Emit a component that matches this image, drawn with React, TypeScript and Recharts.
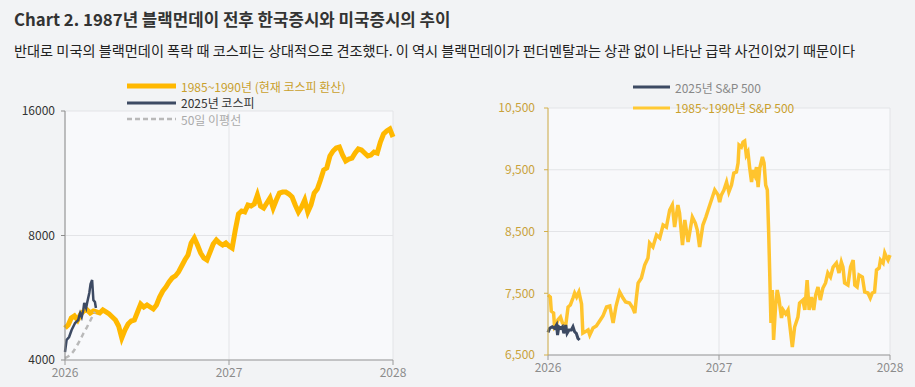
import React from "react";
import { LineChart, Line, XAxis, YAxis, CartesianGrid } from "recharts";

const FONT = '"Noto Sans CJK KR", "Noto Sans", sans-serif';

// x axis is counted in weeks from the start of 2026
const yearTicks = [0, 52, 104];
const yearLabels = ["2026", "2027", "2028"];

// left panel: KOSPI (log scale)
const kospiTicks = [4000, 8000, 16000];

// 1985~1990 KOSPI rescaled to today's level, one value per week
const kospi85Values = [
  4780, 4861, 5052, 5111, 4997, 5167, 5255, 5285, 5196, 5255,
  5226, 5196, 5285, 5226, 5167, 5082, 4997, 4834, 4521, 4727,
  4888, 4969, 4997, 5226, 5463, 5373, 5433, 5373, 5314, 5433,
  5680, 5873, 6005, 6175, 6316, 6386, 6530, 6750, 6980, 7177,
  7673, 7890, 7588, 7258, 7057, 6980, 7298, 7630, 7800, 7673,
  7588, 7673, 7546, 7462, 8250, 9018, 9170, 9119, 9480, 9428,
  9534, 10023, 9427, 9324, 9587, 9857, 9324, 9748, 10134, 10190,
  10190, 10078, 9912, 9480, 9119, 9376, 9748, 9119, 9480, 10134,
  10364, 10897, 11520, 11650, 12453, 12805, 13020, 13093, 12523, 12112,
  12247, 12313, 12663, 12949, 12877, 12663, 12453, 12523, 12734, 12663,
  13465, 14077, 14313, 14476, 13843,
];

const kospi25Weeks = [0, 0.5, 1.3, 2.1, 3.2, 4.2, 4.5, 4.8, 5.3, 5.8, 6.1, 6.7, 7.0, 7.7, 8.1, 8.6, 9.0, 9.5, 9.8];
const kospi25Values = [4182, 4471, 4546, 4727, 4914, 4997, 5111, 5196, 5082, 5285, 5494, 5343, 5494, 5808, 6106, 6245, 5587, 5525, 5343];

const maWeeks = [0, 1.2, 2.5, 3.7, 4.8, 5.9, 7.0, 7.8, 8.6, 9.5];
const maValues = [4045, 4090, 4182, 4324, 4471, 4649, 4807, 4942, 5082, 5226];

// right panel: S&P 500
const spxTicks = [6500, 7500, 8500, 9500, 10500];

const spx85Weeks = [
  0, 0.7, 1.0, 1.7, 2.0, 2.5, 3.0, 3.8, 4.4, 5.4,
  6.1, 6.8, 7.6, 8.1, 8.7, 9.4, 10.2, 10.6, 11.7, 12.2,
  12.7, 13.7, 14.7, 15.7, 16.7, 17.8, 18.8, 19.8, 20.7, 21.8,
  22.8, 23.6, 24.8, 25.8, 26.4, 26.9, 27.4, 28.4, 29.4, 30.4,
  30.9, 31.9, 33.0, 34.0, 35.0, 36.0, 37.0, 37.8, 38.5, 39.5,
  40.0, 40.9, 41.6, 42.6, 43.9, 44.8, 45.4, 46.1, 47.1, 48.0,
  48.7, 49.7, 50.7, 51.7, 52.2, 52.7, 53.5, 54.3, 55.0, 55.8,
  56.5, 57.3, 57.8, 58.1, 58.8, 59.3, 59.8, 60.3, 60.8, 61.3,
  61.9, 62.3, 62.9, 63.4, 63.9, 64.4, 65.2, 65.7, 66.2, 66.7,
  67.1, 67.4, 67.6, 67.8, 68.2, 68.6, 69.2, 69.7, 70.2, 71.0,
  71.5, 72.3, 73.0, 73.7, 74.3, 75.0, 76.0, 76.5, 77.5, 78.1,
  78.8, 79.4, 80.1, 80.8, 81.4, 82.1, 82.8, 83.6, 84.4, 85.1,
  85.9, 86.7, 87.7, 88.5, 89.2, 89.7, 90.2, 91.2, 92.0, 92.8,
  93.3, 94.0, 94.6, 95.6, 96.3, 97.3, 98.0, 98.6, 99.3, 99.9,
  100.7, 101.1, 101.9, 102.4, 102.9, 103.4, 104,
];
const spx85Values = [
  7471, 7439, 7212, 7180, 6953, 6986, 7067, 7115, 7018, 6986,
  7277, 7310, 7423, 7504, 7439, 7520, 7326, 6856, 6889, 6905,
  6824, 6937, 6970, 7050, 7131, 7277, 7293, 7018, 7293, 7520,
  7423, 7358, 7342, 7261, 7180, 7439, 7666, 7747, 7957, 8070,
  8313, 8249, 8443, 8394, 8605, 8572, 8848, 8929, 8572, 8929,
  8799, 8281, 8686, 8329, 8734, 8637, 8524, 8249, 8605, 8734,
  8848, 9009, 9171, 9090, 8977, 9090, 9171, 9301, 9139, 9252,
  9447, 9463, 9608, 9900, 9868, 9948, 9965, 9738, 9787, 9544,
  9301, 9495, 9414, 9544, 9220, 9528, 9706, 9608, 9252, 9171,
  8491, 7876, 7439, 7018, 7552, 6743, 7293, 7552, 7423, 7099,
  7229, 7164, 7229, 6905, 6630, 6953, 7115, 7342, 7390, 7229,
  7714, 7229, 7439, 7229, 7471, 7601, 7390, 7585, 7666, 7828,
  7763, 7925, 7989, 7828, 8006, 7925, 7666, 7633, 7925, 8038,
  7633, 7601, 7795, 7763, 7520, 7504, 7423, 7504, 7520, 7876,
  7909, 8038, 7989, 8151, 8087, 8038, 8119,
];

const spx25Weeks = [0, 0.5, 1.3, 2.0, 2.6, 2.9, 3.3, 3.9, 4.4, 4.8, 5.4, 5.8, 6.4, 7.1, 7.6, 8.1, 8.6, 9.1, 9.6];
const spx25Values = [6867, 6932, 6958, 6932, 6986, 6824, 6958, 6932, 6958, 6851, 6986, 6851, 6905, 6905, 6958, 6877, 6851, 6770, 6743];

const toPoints = (weeks: number[], values: number[]) =>
  weeks.map((w, i) => ({ w, v: values[i] }));

const kospi85 = kospi85Values.map((v, i) => ({ w: i, v }));
const kospi25 = toPoints(kospi25Weeks, kospi25Values);
const kospiMa = toPoints(maWeeks, maValues);
const spx85 = toPoints(spx85Weeks, spx85Values);
const spx25 = toPoints(spx25Weeks, spx25Values);

const yearLabel = (w: number) => yearLabels[yearTicks.indexOf(w)] ?? "";

type LegendRow = { label: string; color: string; textColor: string; dash?: boolean; width: number };

const leftRows: LegendRow[] = [
  { label: "1985~1990년 (현재 코스피 환산)", color: "#ffb800", textColor: "#c9a02c", width: 5 },
  { label: "2025년 코스피", color: "#3d4a63", textColor: "#333", width: 3 },
  { label: "50일 이평선", color: "#b9b9b9", textColor: "#aaa", dash: true, width: 2.5 },
];

const rightRows: LegendRow[] = [
  { label: "2025년 S&P 500", color: "#3d4a63", textColor: "#888", width: 3 },
  { label: "1985~1990년 S&P 500", color: "#ffc933", textColor: "#c9a02c", width: 3 },
];

const ChartLegend = ({ rows, left, top, lineLen, gap }: { rows: LegendRow[]; left: number; top: number; lineLen: number; gap: number }) => (
  <div style={{ position: "absolute", left, top, fontFamily: FONT, fontSize: 12 }}>
    {rows.map((r) => (
      <div key={r.label} style={{ display: "flex", alignItems: "center", height: gap, whiteSpace: "nowrap" }}>
        <svg width={lineLen} height={6} style={{ marginRight: 5 }}>
          <line
            x1={0}
            y1={3}
            x2={lineLen}
            y2={3}
            stroke={r.color}
            strokeWidth={r.width}
            strokeDasharray={r.dash ? "5 3" : undefined}
          />
        </svg>
        <span style={{ color: r.textColor }}>{r.label}</span>
      </div>
    ))}
  </div>
);

const App = () => {
  return (
    <div
      style={{
        position: "fixed",
        left: 0,
        top: 0,
        width: 915,
        height: 387,
        background: "#f2f3f5",
        fontFamily: FONT,
        overflow: "hidden",
      }}
    >
      <div style={{ position: "absolute", left: 14, top: 7, fontSize: 16.8, fontWeight: 700, color: "#333" }}>
        Chart 2. 1987년 블랙먼데이 전후 한국증시와 미국증시의 추이
      </div>
      <div style={{ position: "absolute", left: 14, top: 40, fontSize: 14.2, color: "#222" }}>
        반대로 미국의 블랙먼데이 폭락 때 코스피는 상대적으로 견조했다. 이 역시 블랙먼데이가 펀더멘탈과는 상관 없이 나타난 급락 사건이었기 때문이다
      </div>

      <div style={{ position: "absolute", left: 0, top: 70 }}>
        <LineChart width={420} height={317} margin={{ top: 41, right: 27, bottom: 0, left: 8 }}>
          <CartesianGrid stroke="#e3e4e7" fill="#f8f9fb" />
          <XAxis
            type="number"
            dataKey="w"
            domain={[0, 104]}
            ticks={yearTicks}
            tickFormatter={yearLabel}
            height={27}
            stroke="#9a9a9a"
            tickSize={5}
            tickMargin={3}
            tick={{ fill: "#8c8c8c", fontSize: 12, fontFamily: FONT }}
          />
          <YAxis
            type="number"
            scale="log"
            domain={[4000, 16000]}
            ticks={kospiTicks}
            allowDataOverflow
            width={57}
            stroke="#8c8c8c"
            tickSize={4}
            tickMargin={6}
            tick={{ fill: "#333", fontSize: 12, fontFamily: FONT }}
          />
          <Line data={kospi85} dataKey="v" type="linear" stroke="#ffb800" strokeWidth={5} dot={false} isAnimationActive={false} />
          <Line data={kospiMa} dataKey="v" type="monotone" stroke="#b9b9b9" strokeWidth={2.5} strokeDasharray="5 4" dot={false} isAnimationActive={false} />
          <Line data={kospi25} dataKey="v" type="linear" stroke="#3d4a63" strokeWidth={2.5} dot={false} isAnimationActive={false} />
        </LineChart>
      </div>
      <ChartLegend rows={leftRows} left={127} top={78} lineLen={49} gap={16.5} />

      <div style={{ position: "absolute", left: 470, top: 70 }}>
        <LineChart width={445} height={317} margin={{ top: 38, right: 25, bottom: 0, left: 0 }}>
          <CartesianGrid stroke="#e3e4e7" fill="#f8f9fb" />
          <XAxis
            type="number"
            dataKey="w"
            domain={[0, 104]}
            ticks={yearTicks}
            tickFormatter={yearLabel}
            height={32}
            stroke="#9a9a9a"
            tickSize={5}
            tickMargin={3}
            tick={{ fill: "#8c8c8c", fontSize: 12, fontFamily: FONT }}
          />
          <YAxis
            type="number"
            domain={[6500, 10500]}
            ticks={spxTicks}
            allowDataOverflow
            width={78}
            stroke="#d4b04a"
            tickSize={4}
            tickMargin={9}
            tickFormatter={(v: number) => v.toLocaleString("en-US")}
            tick={{ fill: "#c9a23a", fontSize: 12, fontFamily: FONT }}
          />
          <Line data={spx85} dataKey="v" type="linear" stroke="#ffc42e" strokeWidth={3.5} dot={false} isAnimationActive={false} />
          <Line data={spx25} dataKey="v" type="linear" stroke="#3d4a63" strokeWidth={3} dot={false} isAnimationActive={false} />
        </LineChart>
      </div>
      <ChartLegend rows={rightRows} left={633} top={77} lineLen={37} gap={20.5} />
    </div>
  );
};

export default App;
